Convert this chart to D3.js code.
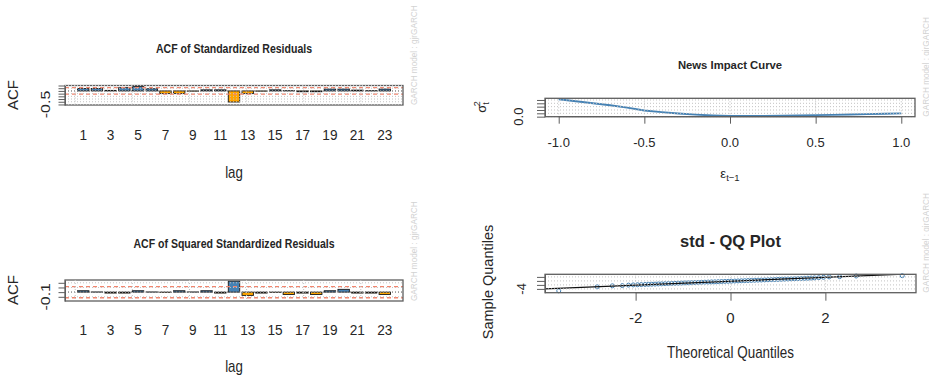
<!DOCTYPE html>
<html>
<head>
<meta charset="utf-8">
<script src="https://cdn.jsdelivr.net/npm/d3@7"></script>
<style>
  html, body { margin: 0; padding: 0; background: #fff; }
  svg { display: block; font-family: Arial, "Liberation Sans", sans-serif; }
</style>
</head>
<body>
<svg id="chart" width="929" height="376"></svg>
<script>
// ---------------- data ----------------
const lags = [1, 2, 3, 4, 5, 6, 7, 8, 9, 10, 11, 12, 13, 14, 15, 16, 17, 18, 19, 20, 21, 22, 23];
const lagTickLabels = [1, 3, 5, 7, 9, 11, 13, 15, 17, 19, 21, 23];

// ACF of standardized residuals
const acfResid = [0.09, 0.09, 0.02, 0.12, 0.16, 0.08, -0.10, -0.10, -0.01, 0.04, 0.04, -0.41,
                  -0.10, -0.01, 0.04, 0.01, -0.03, -0.03, 0.07, 0.07, 0.03, 0.01, 0.07];
const acfResidTicks = [-0.5, -0.4, -0.3, -0.2, -0.1, 0, 0.1, 0.2];
const acfResidTickLabel = -0.5;

// ACF of squared standardized residuals
const acfSqResid = [0.03, 0.004, -0.02, -0.02, 0.03, 0.004, -0.004, 0.03, 0.004, 0.03, -0.02, 0.235,
                    -0.07, -0.02, -0.004, -0.05, -0.02, -0.05, 0.03, 0.06, -0.02, -0.02, -0.05];
const acfSqTicks = [-0.1, 0, 0.1, 0.2];
const acfSqTickLabel = -0.1;

// 95% confidence band for the autocorrelations
const confLimit = 0.12;

// News impact curve
const newsEps = [-1.0, -0.9, -0.8, -0.7, -0.6, -0.5, -0.4, -0.3, -0.2, -0.1, 0.0,
                 0.1, 0.2, 0.3, 0.4, 0.5, 0.6, 0.7, 0.8, 0.9, 1.0];
const newsSigma2 = [0.520, 0.460, 0.400, 0.340, 0.270, 0.185, 0.135, 0.095, 0.060, 0.035, 0.020,
                    0.021, 0.023, 0.028, 0.035, 0.045, 0.055, 0.065, 0.075, 0.088, 0.100];
const newsXTicks = [-1.0, -0.5, 0.0, 0.5, 1.0];
const newsYTicks = [0, 0.1, 0.2, 0.3, 0.4, 0.5];
const newsYTickLabel = 0;

// QQ plot against the fitted std distribution
const qqTheoretical = [-3.62, -2.81, -2.49, -2.28, -2.15, -2.05, -1.96, -1.88, -1.80, -1.73, -1.66,
  -1.59, -1.52, -1.45, -1.38, -1.31, -1.24, -1.17, -1.10, -1.03, -0.96, -0.89, -0.82, -0.75,
  -0.68, -0.61, -0.54, -0.47, -0.40, -0.33, -0.26, -0.19, -0.12, -0.05, 0.02, 0.09, 0.16,
  0.23, 0.30, 0.37, 0.44, 0.51, 0.58, 0.65, 0.72, 0.79, 0.86, 0.93, 1.00, 1.07, 1.14, 1.21,
  1.28, 1.35, 1.42, 1.49, 1.56, 1.63, 1.70, 1.77, 1.86, 1.96, 2.08, 2.30, 2.65, 3.62];
const qqSample = [-4.95, -2.95, -2.45, -2.35, -2.10, -2.00, -1.92, -1.85, -1.78, -1.72, -1.66,
  -1.60, -1.52, -1.46, -1.40, -1.33, -1.27, -1.20, -1.14, -1.08, -1.01, -0.95, -0.88, -0.82,
  -0.76, -0.70, -0.63, -0.57, -0.50, -0.45, -0.38, -0.32, -0.26, -0.20, -0.13, -0.07, 0.00,
  0.06, 0.12, 0.18, 0.25, 0.31, 0.38, 0.44, 0.50, 0.57, 0.63, 0.69, 0.76, 0.82, 0.89, 0.95,
  1.01, 1.08, 1.14, 1.20, 1.27, 1.34, 1.42, 1.50, 1.62, 1.80, 2.00, 2.12, 2.45, 2.60];
const qqLineSlope = 0.97;
const qqLineIntercept = -0.15;
const qqXTicks = [-2, 0, 2];
const qqYTicks = [-4, -2, 0, 2];
const qqYTickLabel = -4;

const modelNote = "GARCH model : gjrGARCH";

// ---------------- drawing ----------------
const svg = d3.select("#chart");
svg.append("rect").attr("width", 929).attr("height", 376).attr("fill", "#fff");

const INK = "#262626", FRAME = "#5e5e5e", GRID = "#c2c2c2", NOTE = "#d2d2d2", CONF = "#f3846c";

function txt(g, x, y, s, o = {}) {
  return g.append("text")
    .attr("transform", `translate(${x},${y}) rotate(${o.rotate || 0}) scale(${o.sx || 1},${o.sy || 1})`)
    .attr("text-anchor", o.anchor || "middle")
    .attr("font-size", o.size || 12)
    .attr("font-weight", o.weight || "normal")
    .attr("fill", o.fill || INK)
    .text(s);
}

function fmt1(v) { return (v < 0 ? "-" : "") + Math.abs(v).toFixed(1); }

function gridLines(g, xs, ys, x0, x1, y0, y1) {
  g.append("g").selectAll("line").data(ys).join("line")
    .attr("x1", x0).attr("x2", x1).attr("y1", d => d).attr("y2", d => d)
    .attr("stroke", GRID).attr("stroke-width", 1).attr("stroke-dasharray", "1,2");
  g.append("g").selectAll("line").data(xs).join("line")
    .attr("x1", d => d).attr("x2", d => d).attr("y1", y0).attr("y2", y1)
    .attr("stroke", GRID).attr("stroke-width", 1).attr("stroke-dasharray", "1,2");
}

function frame(g, x0, x1, y0, y1) {
  g.append("rect").attr("x", x0).attr("y", y0).attr("width", x1 - x0).attr("height", y1 - y0)
    .attr("fill", "none").attr("stroke", FRAME).attr("stroke-width", 1.3);
}

function leftTicks(g, y, ticks, x0, len) {
  g.append("g").attr("transform", `translate(${x0},0)`)
    .call(d3.axisLeft(y).tickValues(ticks).tickSize(len).tickSizeOuter(0).tickFormat(""))
    .call(a => a.select(".domain").attr("stroke", FRAME))
    .call(a => a.selectAll(".tick line").attr("stroke", FRAME));
}

function bottomTicks(g, x, ticks, y1, len) {
  g.append("g").attr("transform", `translate(0,${y1})`)
    .call(d3.axisBottom(x).tickValues(ticks).tickSize(len).tickSizeOuter(0).tickFormat(""))
    .call(a => a.select(".domain").remove())
    .call(a => a.selectAll(".tick line").attr("stroke", FRAME));
}

function note(g, x, yBottom) {
  txt(g, x, yBottom, modelNote, { rotate: -90, anchor: "start", size: 8.2, fill: NOTE });
}

// ---- ACF bar panels ----
function acfPanel(c) {
  const [x0, x1, y0, y1] = c.box;
  const g = svg.append("g");
  const x = d3.scaleBand().domain(lags).range([x0, x1]).paddingInner(1 / 6).paddingOuter(0.913);
  const xu = d3.scaleLinear().domain([-0.896, 28.696]).range([x0, x1]);
  const y = d3.scaleLinear().domain(c.yDomain).range([y1, y0]);

  g.append("g").selectAll("rect").data(c.values).join("rect")
    .attr("x", (d, i) => x(lags[i]))
    .attr("width", x.bandwidth())
    .attr("y", d => y(Math.max(0, d)))
    .attr("height", d => Math.abs(y(d) - y(0)))
    .attr("fill", d => d >= 0 ? "steelblue" : "orange")
    .attr("stroke", "#1a1a1a").attr("stroke-width", 0.9);

  g.append("g").selectAll("line").data([confLimit, -confLimit]).join("line")
    .attr("x1", x0).attr("x2", x1).attr("y1", d => y(d)).attr("y2", d => y(d))
    .attr("stroke", CONF).attr("stroke-width", 1.3).attr("stroke-dasharray", "4,3");
  g.append("line").attr("x1", x0).attr("x2", x1).attr("y1", y(0)).attr("y2", y(0))
    .attr("stroke", "#111").attr("stroke-width", 1).attr("stroke-dasharray", "1,2");

  frame(g, x0, x1, y0, y1);
  gridLines(g, [0, 5, 10, 15, 20, 25].map(xu), c.yTicks.map(y), x0, x1, y0, y1);
  leftTicks(g, y, c.yTicks, x0, 6.5);

  txt(g, (x0 + x1) / 2, c.titleY, c.title, { size: 13, weight: "bold", sx: 0.81 });
  lagTickLabels.forEach(l => txt(g, x(l) + x.bandwidth() / 2, c.tickY, String(l), { size: 15.5, sx: 0.88 }));
  txt(g, (x0 + x1) / 2, c.xlabY, "lag", { size: 16, sx: 0.83 });
  txt(g, 18.3, c.ylabY, "ACF", { rotate: -90, size: 15 });
  txt(g, 50, y(c.tickLabel), fmt1(c.tickLabel), { rotate: -90, size: 16, sy: 0.75 });
  note(g, 416.5, y1);
}

acfPanel({
  values: acfResid, box: [65, 403, 85.5, 105], yDomain: [-0.52, 0.2],
  yTicks: acfResidTicks, tickLabel: acfResidTickLabel,
  title: "ACF of Standardized Residuals", titleY: 52.7, tickY: 140, xlabY: 178, ylabY: 95
});

acfPanel({
  values: acfSqResid, box: [65, 403, 280, 301], yDomain: [-0.19, 0.26],
  yTicks: acfSqTicks, tickLabel: acfSqTickLabel,
  title: "ACF of Squared Standardized Residuals", titleY: 247.7, tickY: 335, xlabY: 371.7, ylabY: 290
});

// ---- News impact curve ----
(function () {
  const [x0, x1, y0, y1] = [545, 915, 98.3, 116.7];
  const g = svg.append("g");
  const x = d3.scaleLinear().domain([-1.08, 1.08]).range([x0, x1]);
  const y = d3.scaleLinear().domain([-0.001, 0.55]).range([y1, y0]);
  const pts = newsEps.map((e, i) => [e, newsSigma2[i]]);

  g.append("path").datum(pts)
    .attr("d", d3.line().x(d => x(d[0])).y(d => y(d[1])))
    .attr("fill", "none").attr("stroke", "steelblue").attr("stroke-width", 1.9);

  gridLines(g, newsXTicks.map(x), newsYTicks.map(y), x0, x1, y0, y1);
  frame(g, x0, x1, y0, y1);
  leftTicks(g, y, newsYTicks, x0, 8);
  bottomTicks(g, x, newsXTicks, y1, 7);
  g.append("line").attr("x1", x(newsXTicks[0])).attr("x2", x(newsXTicks[newsXTicks.length - 1]))
    .attr("y1", y1).attr("y2", y1).attr("stroke", FRAME);

  txt(g, (x0 + x1) / 2, 69, "News Impact Curve", { size: 11.3, weight: "bold" });
  newsXTicks.forEach(v => txt(g, x(v), 146.7, fmt1(v), { size: 13 }));
  txt(g, 523.3, y(newsYTickLabel), fmt1(newsYTickLabel), { rotate: -90, size: 13 });

  const xl = g.append("text").attr("x", 730).attr("y", 178).attr("text-anchor", "middle")
    .attr("font-size", 13).attr("fill", INK);
  xl.append("tspan").text("ε");
  xl.append("tspan").attr("font-size", 9.5).attr("dy", 3).text("t−1");

  const yl = g.append("text").attr("transform", "translate(486,107) rotate(-90)")
    .attr("text-anchor", "middle").attr("font-size", 13).attr("fill", INK);
  yl.append("tspan").text("σ");
  yl.append("tspan").attr("font-size", 9).attr("dy", 3).text("t");
  yl.append("tspan").attr("font-size", 9).attr("dx", -4).attr("dy", -9).text("2");

  note(g, 928.5, y1);
})();

// ---- QQ plot ----
(function () {
  const [x0, x1, y0, y1] = [545, 916, 274.3, 292.7];
  const g = svg.append("g");
  const x = d3.scaleLinear().domain([-3.91, 3.91]).range([x0, x1]);
  const y = d3.scaleLinear().domain([-5.9, 3.3]).range([y1, y0]);

  svg.append("defs").append("clipPath").attr("id", "qq-clip")
    .append("rect").attr("x", x0).attr("y", y0).attr("width", x1 - x0).attr("height", y1 - y0);

  g.append("g").selectAll("circle").data(qqTheoretical).join("circle")
    .attr("cx", d => x(d)).attr("cy", (d, i) => y(qqSample[i])).attr("r", 2)
    .attr("fill", "none").attr("stroke", "steelblue").attr("stroke-width", 1);

  const xd = x.domain();
  g.append("line").attr("clip-path", "url(#qq-clip)")
    .attr("x1", x(xd[0])).attr("y1", y(qqLineIntercept + qqLineSlope * xd[0]))
    .attr("x2", x(xd[1])).attr("y2", y(qqLineIntercept + qqLineSlope * xd[1]))
    .attr("stroke", "#111").attr("stroke-width", 1.2);

  gridLines(g, qqXTicks.map(x), qqYTicks.map(y), x0, x1, y0, y1);
  frame(g, x0, x1, y0, y1);
  leftTicks(g, y, qqYTicks, x0, 8);
  bottomTicks(g, x, qqXTicks, y1, 8);
  g.append("line").attr("x1", x(qqXTicks[0])).attr("x2", x(qqXTicks[qqXTicks.length - 1]))
    .attr("y1", y1).attr("y2", y1).attr("stroke", FRAME);

  txt(g, (x0 + x1) / 2, 246.7, "std - QQ Plot", { size: 16.5, weight: "bold" });
  qqXTicks.forEach(v => txt(g, x(v), 323.3, String(v), { size: 15 }));
  txt(g, (x0 + x1) / 2, 358.3, "Theoretical Quantiles", { size: 16, sx: 0.84 });
  txt(g, 493, 282, "Sample Quantiles", { rotate: -90, size: 14.5 });
  txt(g, 526, y(qqYTickLabel), String(qqYTickLabel), { rotate: -90, size: 13 });

  note(g, 928.5, y1);
})();
</script>
</body>
</html>
